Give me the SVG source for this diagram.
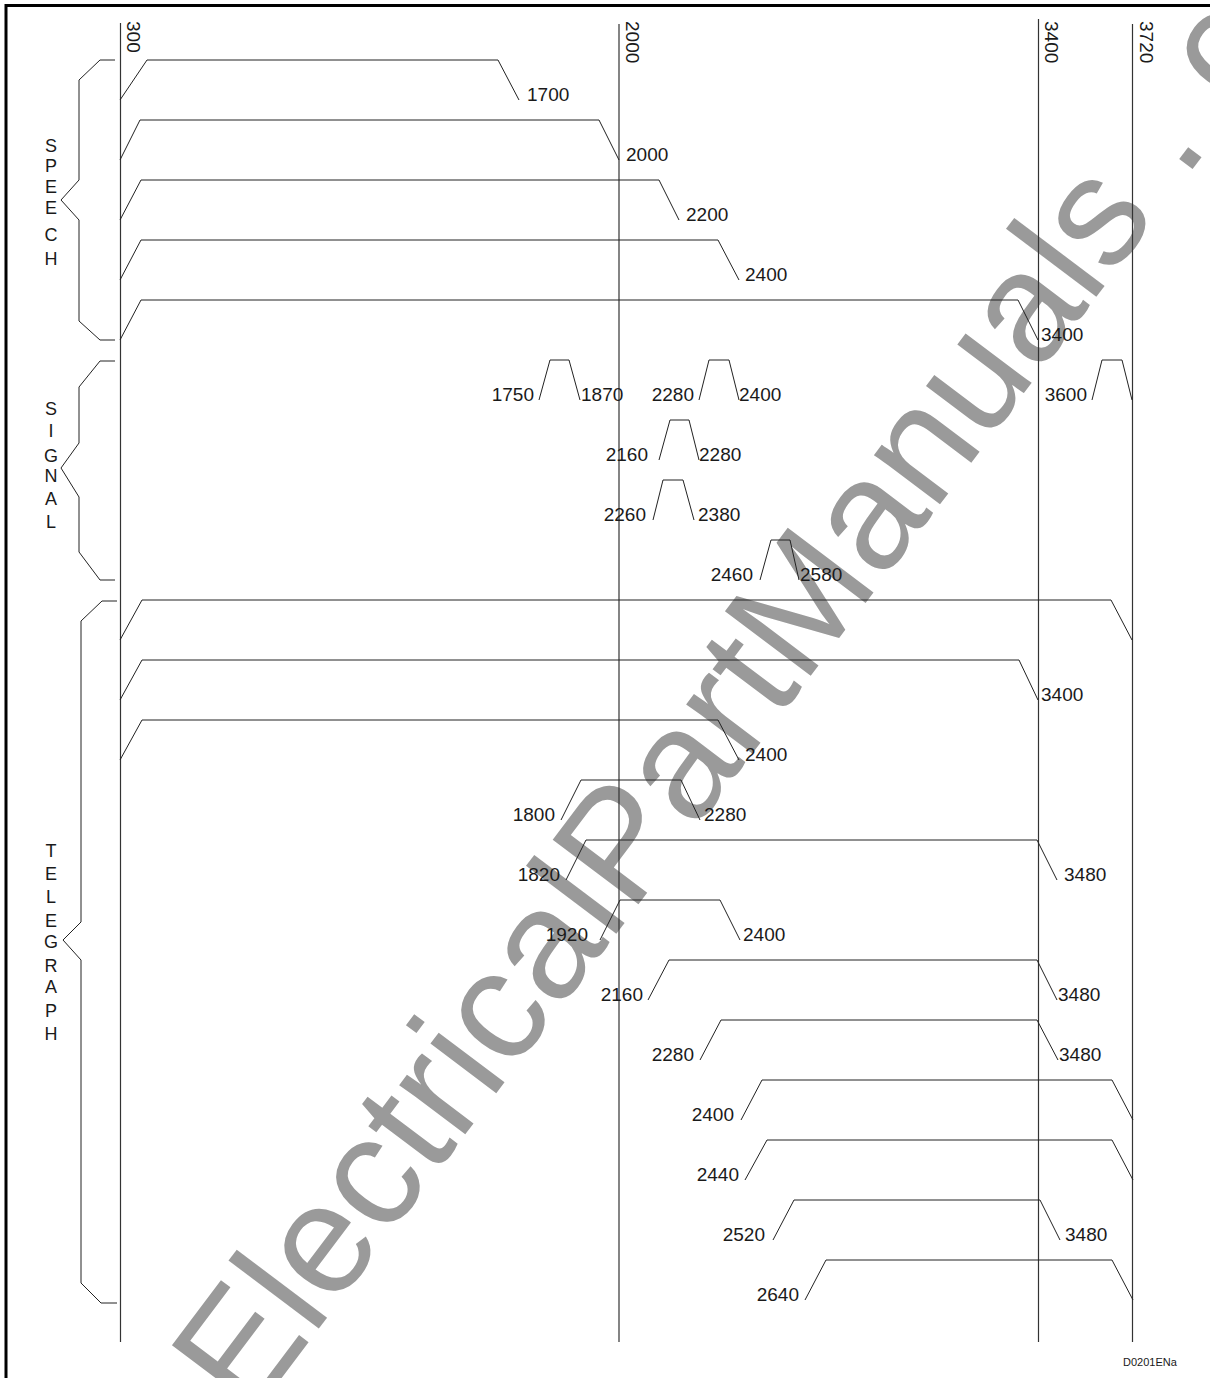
<svg xmlns="http://www.w3.org/2000/svg" width="1210" height="1378" viewBox="0 0 1210 1378">
<style>
.wm{font-family:"Liberation Sans",Arial,sans-serif;font-size:156px;fill:#9a9a9a}
.ln{fill:none;stroke:#222;stroke-width:1}
.ax{fill:none;stroke:#333;stroke-width:1.2}
.br{fill:none;stroke:#222;stroke-width:1}
.lb{font-family:"Liberation Sans",Arial,sans-serif;font-size:19px;fill:#1a1a1a}
.e{text-anchor:end}
.cat{font-family:"Liberation Sans",Arial,sans-serif;font-size:18px;fill:#1a1a1a;text-anchor:middle}
.code{font-family:"Liberation Sans",Arial,sans-serif;font-size:11px;fill:#1a1a1a}
</style>
<rect x="0" y="0" width="1210" height="1378" fill="#fff"/>
<text class="wm" transform="translate(250,1420) rotate(-53)">ElectricalPartManuals . com</text>
<rect x="6" y="5.5" width="1230" height="1400" fill="none" stroke="#000" stroke-width="3"/>

<g id="connectors">
<line class="ax" x1="120.5" y1="23" x2="120.5" y2="1342"/>
<line class="ax" x1="619" y1="24" x2="619" y2="1342"/>
<line class="ax" x1="1038.5" y1="19" x2="1038.5" y2="1342"/>
<line class="ax" x1="1132.5" y1="24" x2="1132.5" y2="1342"/>
</g>

<g id="axis-labels" class="lb">
<text transform="translate(127,21) rotate(90)">300</text>
<text transform="translate(626,21) rotate(90)">2000</text>
<text transform="translate(1045,21) rotate(90)">3400</text>
<text transform="translate(1140,21) rotate(90)">3720</text>
</g>

<g id="speech">
<path class="br" d="M115,60 H100 L79,80 V180 L61,200 L79,220 V321 L100,340 H115"/>
<g class="cat">
<text x="51" y="152">S</text><text x="51" y="172">P</text><text x="51" y="193">E</text><text x="51" y="214">E</text><text x="51" y="241">C</text><text x="51" y="265">H</text>
</g>
<g id="s1"><path class="ln" d="M120,100 L147,60 H498 L519,100"/><text class="lb" x="527" y="101">1700</text></g>
<g id="s2"><path class="ln" d="M120,160 L140,120 H599 L619,160"/><text class="lb" x="626" y="161">2000</text></g>
<g id="s3"><path class="ln" d="M120,220 L141,180 H659 L679,220"/><text class="lb" x="686" y="221">2200</text></g>
<g id="s4"><path class="ln" d="M120,280 L141,240 H718 L739,280"/><text class="lb" x="745" y="281">2400</text></g>
<g id="s5"><path class="ln" d="M120,340 L141,300 H1018 L1038,340"/><text class="lb" x="1041" y="341">3400</text></g>
</g>

<g id="signal">
<path class="br" d="M115,361 H100 L79,387 V443 L61,468 L79,497 V552 L100,580 H115"/>
<g class="cat">
<text x="51" y="415">S</text><text x="51" y="437">I</text><text x="51" y="462">G</text><text x="51" y="482">N</text><text x="51" y="505">A</text><text x="51" y="528">L</text>
</g>
<g id="g1"><path class="ln" d="M539,400 L550,360 H569 L580,400"/><text class="lb e" x="534" y="401">1750</text><text class="lb" x="581" y="401">1870</text></g>
<g id="g2"><path class="ln" d="M699,400 L709,360 H729 L739,400"/><text class="lb e" x="694" y="401">2280</text><text class="lb" x="739" y="401">2400</text></g>
<g id="g3"><path class="ln" d="M659,460 L670,420 H689 L699,460"/><text class="lb e" x="648" y="461">2160</text><text class="lb" x="699" y="461">2280</text></g>
<g id="g4"><path class="ln" d="M653,520 L663,480 H683 L694,520"/><text class="lb e" x="646" y="521">2260</text><text class="lb" x="698" y="521">2380</text></g>
<g id="g5"><path class="ln" d="M760,580 L771,540 H790 L799,580"/><text class="lb e" x="753" y="581">2460</text><text class="lb" x="800" y="581">2580</text></g>
<g id="g6"><path class="ln" d="M1092,400 L1102,360 H1122 L1132,400"/><text class="lb e" x="1087" y="401">3600</text></g>
</g>

<g id="telegraph">
<path class="br" d="M117,601 H102 L81,621 V922 L63,940 L81,960 V1283 L101,1303 H117"/>
<g class="cat">
<text x="51" y="857">T</text><text x="51" y="880">E</text><text x="51" y="903">L</text><text x="51" y="927">E</text><text x="51" y="948">G</text><text x="51" y="972">R</text><text x="51" y="993">A</text><text x="51" y="1017">P</text><text x="51" y="1040">H</text>
</g>
<g id="t1"><path class="ln" d="M120,640 L142,600 H1111 L1132,640"/></g>
<g id="t2"><path class="ln" d="M120,700 L142,660 H1019 L1038,700"/><text class="lb" x="1041" y="701">3400</text></g>
<g id="t3"><path class="ln" d="M120,760 L142,720 H718 L739,760"/><text class="lb" x="745" y="761">2400</text></g>
<g id="t4"><path class="ln" d="M561,820 L581,780 H681 L700,820"/><text class="lb e" x="555" y="821">1800</text><text class="lb" x="704" y="821">2280</text></g>
<g id="t5"><path class="ln" d="M566,880 L586,840 H1037 L1057,880"/><text class="lb e" x="560" y="881">1820</text><text class="lb" x="1064" y="881">3480</text></g>
<g id="t6"><path class="ln" d="M600,940 L620,900 H720 L740,940"/><text class="lb e" x="588" y="941">1920</text><text class="lb" x="743" y="941">2400</text></g>
<g id="t7"><path class="ln" d="M648,1000 L669,960 H1037 L1057,1000"/><text class="lb e" x="643" y="1001">2160</text><text class="lb" x="1058" y="1001">3480</text></g>
<g id="t8"><path class="ln" d="M700,1060 L721,1020 H1037 L1058,1060"/><text class="lb e" x="694" y="1061">2280</text><text class="lb" x="1059" y="1061">3480</text></g>
<g id="t9"><path class="ln" d="M741,1120 L762,1080 H1112 L1133,1120"/><text class="lb e" x="734" y="1121">2400</text></g>
<g id="t10"><path class="ln" d="M745,1180 L767,1140 H1112 L1133,1180"/><text class="lb e" x="739" y="1181">2440</text></g>
<g id="t11"><path class="ln" d="M773,1240 L794,1200 H1040 L1060,1240"/><text class="lb e" x="765" y="1241">2520</text><text class="lb" x="1065" y="1241">3480</text></g>
<g id="t12"><path class="ln" d="M805,1300 L826,1260 H1112 L1133,1300"/><text class="lb e" x="799" y="1301">2640</text></g>
</g>

<text class="code" x="1123" y="1366">D0201ENa</text>
</svg>
